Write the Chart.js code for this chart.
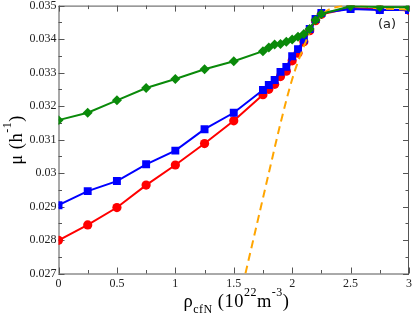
<!DOCTYPE html>
<html>
<head>
<meta charset="utf-8">
<script src="https://cdn.jsdelivr.net/npm/chart.js@4.4.0/dist/chart.umd.min.js"></script>
<style>
  html, body { margin: 0; padding: 0; background: #fff; }
  #wrap { width: 415px; height: 317px; }
</style>
</head>
<body>
<div id="wrap"><canvas id="chart" width="415" height="317"></canvas></div>
<script>
// rho_cfN (10^22 m^-3) values shared by the three marked series
const rho = [0, 0.25, 0.5, 0.75, 1, 1.25, 1.5, 1.75, 1.8, 1.85, 1.9, 1.95, 2.0, 2.05, 2.1, 2.15, 2.2, 2.25, 2.5, 2.75, 3];

const muRed = [0.02799, 0.02845, 0.02897, 0.02964, 0.03024, 0.03088, 0.03156, 0.03234, 0.0325, 0.03265, 0.03288, 0.03304, 0.03335, 0.03358, 0.03392, 0.03425, 0.03455, 0.03474, 0.03493, 0.03488, 0.03486];
const muBlue = [0.02904, 0.02946, 0.02976, 0.03026, 0.03067, 0.03131, 0.0318, 0.03248, 0.03263, 0.03278, 0.03302, 0.03317, 0.03349, 0.0337, 0.03399, 0.0343, 0.0346, 0.03478, 0.0349, 0.03487, 0.03487];
const muGreen = [0.03158, 0.0318, 0.03217, 0.03254, 0.03281, 0.0331, 0.03334, 0.03364, 0.03375, 0.03384, 0.03385, 0.03392, 0.03399, 0.03407, 0.03415, 0.0343, 0.03457, 0.03475, 0.03498, 0.03496, 0.03495];

// dashed orange curve
const rhoCurve = [1.6, 1.7, 1.8, 1.9, 2.0, 2.1, 2.2, 2.3, 2.4, 2.5, 2.75, 3.0];
const muCurve = [0.0270, 0.0285, 0.0300, 0.03148, 0.0328, 0.03378, 0.03452, 0.03485, 0.03497, 0.03500, 0.03492, 0.03488];

const xTicks = [0, 0.5, 1, 1.5, 2, 2.5, 3];
const yTicks = [0.027, 0.028, 0.029, 0.03, 0.031, 0.032, 0.033, 0.034, 0.035];

function pts(xs, ys) {
  return xs.map((x, i) => ({ x: x, y: ys[i] }));
}

const serif = "'Liberation Serif', 'DejaVu Serif', serif";

// draw a run of text pieces [text, font, dy] starting at x
function drawRuns(ctx, parts, x, base) {
  parts.forEach(p => {
    ctx.font = p[1];
    ctx.fillText(p[0], x, base + p[2]);
    x += ctx.measureText(p[0]).width;
  });
}
function runWidth(ctx, parts) {
  let w = 0;
  parts.forEach(p => { ctx.font = p[1]; w += ctx.measureText(p[0]).width; });
  return w;
}

// frame + inward ticks on all four sides, axis titles, panel label
const framePlugin = {
  id: 'frame',
  beforeDatasetsDraw(chart) {
    const { ctx, chartArea: a, scales } = chart;
    ctx.save();
    ctx.strokeStyle = '#555';
    ctx.lineWidth = 1;
    ctx.strokeRect(a.left + 0.5, a.top + 0.5, a.right - a.left - 1, a.bottom - a.top);
    ctx.beginPath();
    for (let v = 0; v <= 3.001; v += 0.25) {
      const px = Math.round(scales.x.getPixelForValue(v)) + 0.5;
      const len = Math.abs(v * 2 - Math.round(v * 2)) < 1e-6 ? 6 : 3.5;
      ctx.moveTo(px, a.bottom); ctx.lineTo(px, a.bottom - len);
      ctx.moveTo(px, a.top); ctx.lineTo(px, a.top + len);
    }
    for (let i = 0; i <= 16; i++) {
      const v = 0.027 + i * 0.0005;
      const py = Math.round(scales.y.getPixelForValue(v)) + 0.5;
      const len = i % 2 === 0 ? 6 : 3.5;
      ctx.moveTo(a.left, py); ctx.lineTo(a.left + len, py);
      ctx.moveTo(a.right, py); ctx.lineTo(a.right - len, py);
    }
    ctx.stroke();
    ctx.restore();
  },
  afterDraw(chart) {
    const { ctx, chartArea: a } = chart;
    ctx.save();
    ctx.fillStyle = '#000';
    ctx.textBaseline = 'alphabetic';
    ctx.letterSpacing = '0.5px';
    const big = '18.5px ' + serif, small = '12px ' + serif;
    // x axis title: rho_cfN (10^22 m^-3)
    const parts = [
      ['\u03C1', big, 0], ['cfN', small, 6], [' (10', big, 0], ['22', small, -11],
      ['m', big, 0], ['-3', small, -11], [')', big, 0]
    ];
    const w = runWidth(ctx, parts);
    drawRuns(ctx, parts, 236.5 - w / 2, 307);
    // y axis title: mu (h^-1)
    const yparts = [['\u03BC (h', big, 0], ['-1', small, -11], [')', big, 0]];
    const wy = runWidth(ctx, yparts);
    ctx.translate(22, 140);
    ctx.rotate(-Math.PI / 2);
    drawRuns(ctx, yparts, -wy / 2, 0);
    ctx.restore();
    // panel label
    ctx.save();
    ctx.font = "13px 'DejaVu Sans', sans-serif";
    ctx.fillStyle = '#222';
    ctx.textAlign = 'center';
    ctx.textBaseline = 'middle';
    ctx.fillText('(a)', 387, 25);
    ctx.restore();
  }
};

const ctx = document.getElementById('chart').getContext('2d');

const myChart = new Chart(ctx, {
  type: 'line',
  data: {
    datasets: [
      {
        label: 'green',
        data: pts(rho, muGreen),
        borderColor: '#0a8a0a',
        backgroundColor: '#0a8a0a',
        borderWidth: 2,
        pointStyle: 'rectRot',
        pointRadius: 5,
        pointBorderWidth: 0
      },
      {
        label: 'orange',
        data: pts(rhoCurve, muCurve),
        borderColor: '#ffa500',
        borderWidth: 2,
        borderDash: [8, 5],
        pointRadius: 0,
        cubicInterpolationMode: 'monotone'
      },
      {
        label: 'blue',
        data: pts(rho, muBlue),
        borderColor: '#0000ff',
        backgroundColor: '#0000ff',
        borderWidth: 2,
        pointStyle: 'rect',
        pointRadius: 5.6,
        pointBorderWidth: 0
      },
      {
        label: 'red',
        data: pts(rho, muRed),
        borderColor: '#ff0000',
        backgroundColor: '#ff0000',
        borderWidth: 2,
        pointStyle: 'circle',
        pointRadius: 4.6,
        pointBorderWidth: 0
      }
    ]
  },
  options: {
    responsive: false,
    animation: false,
    layout: { padding: { top: 5, right: 6, left: 0, bottom: 0 } },
    plugins: { legend: { display: false }, tooltip: { enabled: false } },
    scales: {
      x: {
        type: 'linear',
        min: 0,
        max: 3,
        afterBuildTicks: (s) => { s.ticks = xTicks.map(v => ({ value: v })); },
        afterFit: (s) => { s.height = 43.5; s.paddingRight = 0; s.paddingLeft = 0; },
        grid: { display: false, drawTicks: false },
        border: { display: false },
        ticks: {
          padding: 3,
          color: '#222',
          font: { family: serif, size: 12 },
          callback: (v) => String(Number(v.toFixed(2)))
        }
      },
      y: {
        type: 'linear',
        min: 0.027,
        max: 0.035,
        afterBuildTicks: (s) => { s.ticks = yTicks.map(v => ({ value: v })); },
        afterFit: (s) => { s.width = 58.5; s.paddingTop = 0; s.paddingBottom = 0; },
        grid: { display: false, drawTicks: false },
        border: { display: false },
        ticks: {
          padding: 2,
          color: '#222',
          font: { family: serif, size: 12 },
          callback: (v) => String(Number(v.toFixed(4)))
        }
      }
    }
  },
  plugins: [framePlugin]
});
</script>
</body>
</html>
